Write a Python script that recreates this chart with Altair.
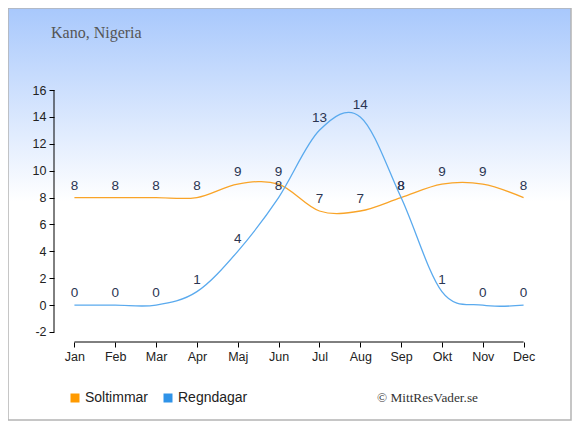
import altair as alt
import pandas as pd

months = ["Jan", "Feb", "Mar", "Apr", "Maj", "Jun", "Jul", "Aug", "Sep", "Okt", "Nov", "Dec"]
sun_hours = [8, 8, 8, 8, 9, 9, 7, 7, 8, 9, 9, 8]
rain_days = [0, 0, 0, 1, 4, 8, 13, 14, 8, 1, 0, 0]
series_names = ["Soltimmar", "Regndagar"]
series_colors = ["#f9a428", "#5aaaee"]
legend_colors = ["#ff9a00", "#2f93e8"]
y_ticks = [-2, 0, 2, 4, 6, 8, 10, 12, 14, 16]

rows = []
for m, s, r in zip(months, sun_hours, rain_days):
    rows.append({"month": m, "series": "Soltimmar", "value": s})
    rows.append({"month": m, "series": "Regndagar", "value": r})
df = pd.DataFrame(rows)

W, H = 490, 252
PL, PT, PR, PB = 46, 82, 28, 79

xscale = alt.Scale(type="point", domain=months, padding=0.5)
yscale = alt.Scale(domain=[-2.744, 16], nice=False, zero=False)

axis_common = dict(title=None, domain=False, tickColor="#000", labelColor="#222",
                   labelFont="Liberation Sans", labelFontSize=12.5, tickSize=5,
                   labelPadding=3, grid=False, zindex=2, labelOverlap=False,
                   labelFlush=False)
XAX = alt.Axis(labelAngle=0, labelAlign="center", **axis_common)
YAX = alt.Axis(values=y_ticks, labelExpr="toString(datum.value)", **axis_common)

bg = alt.Chart(pd.DataFrame({"a": [0]})).mark_rect(
    fill={"gradient": "linear", "x1": 0, "y1": 0, "x2": 0, "y2": 1,
          "stops": [{"offset": 0, "color": "#a8c8fc"},
                    {"offset": 0.47, "color": "#ffffff"},
                    {"offset": 1, "color": "#ffffff"}]},
    stroke="#b4b4b4", strokeWidth=1.5,
).encode(
    x=alt.value(-PL), x2=alt.value(W + PR - 1),
    y=alt.value(-PT), y2=alt.value(H + PB - 1),
)

title = alt.Chart(pd.DataFrame({"t": ["Kano, Nigeria"]})).mark_text(
    font="Liberation Serif", fontSize=16, color="#555555", align="left", baseline="alphabetic"
).encode(x=alt.value(-3), y=alt.value(-52), text="t:N")

copyright_txt = alt.Chart(pd.DataFrame({"t": ["© MittResVader.se"]})).mark_text(
    font="Liberation Serif", fontSize=13.3, color="#333333", align="left", baseline="middle"
).encode(x=alt.value(323), y=alt.value(308), text="t:N")

lines = alt.Chart(df).mark_line(interpolate="cardinal", strokeWidth=1.3).encode(
    x=alt.X("month:N", scale=xscale, sort=months, axis=XAX),
    y=alt.Y("value:Q", scale=yscale, axis=YAX),
    color=alt.Color("series:N", scale=alt.Scale(domain=series_names, range=series_colors),
                    legend=None),
    detail="series:N",
)

legend_pts = alt.Chart(df).mark_square(opacity=0).encode(
    x=alt.X("month:N", scale=xscale, sort=months, axis=XAX),
    y=alt.Y("value:Q", scale=yscale, axis=YAX),
    fill=alt.Fill("series:N", scale=alt.Scale(domain=series_names, range=legend_colors),
                  legend=alt.Legend(title=None, orient="none", legendX=14, legendY=301,
                                    direction="horizontal", symbolType="square",
                                    symbolSize=81, symbolOpacity=1, labelFont="Liberation Sans",
                                    labelFontSize=14, labelColor="#222", labelOffset=3,
                                    columnPadding=12, symbolStrokeWidth=0)),
)

labels = alt.Chart(df).mark_text(
    font="Liberation Sans", fontSize=13.5, color="#2b3552", baseline="alphabetic", dy=-8
).encode(
    x=alt.X("month:N", scale=xscale, sort=months, axis=XAX),
    y=alt.Y("value:Q", scale=yscale, axis=YAX),
    text="value:Q",
)

axis_df = pd.DataFrame({"a": [0]})
x_rule = alt.Chart(axis_df).mark_rule(color="#000", strokeWidth=1).encode(
    x=alt.datum("Jan", scale=xscale, axis=XAX), x2=alt.datum("Dec"), y=alt.value(H)
)
y_rule = alt.Chart(axis_df).mark_rule(color="#000", strokeWidth=1).encode(
    x=alt.value(0), y=alt.datum(16, axis=YAX), y2=alt.datum(-2)
)

chart = alt.layer(bg, title, copyright_txt, legend_pts, lines, labels, x_rule, y_rule).properties(
    width=W, height=H,
    autosize=alt.AutoSizeParams(type="none"),
    padding={"left": PL, "top": PT, "right": PR, "bottom": PB},
).configure_view(stroke=None).configure(background="white")

chart.save("out.html", embed_options={"renderer": "svg", "actions": False})
